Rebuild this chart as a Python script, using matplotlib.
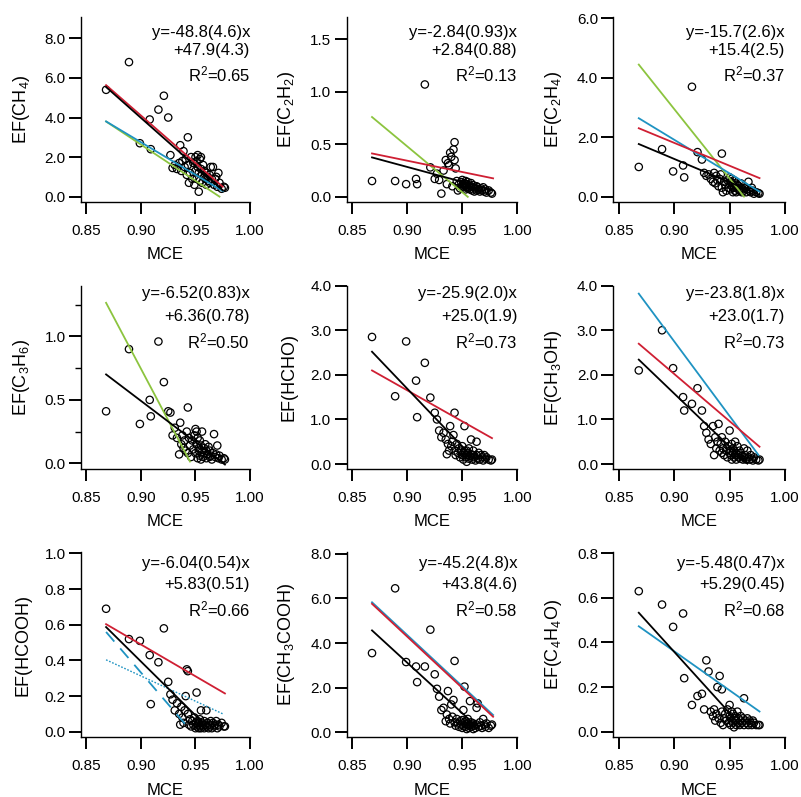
import matplotlib
matplotlib.use("Agg")
import matplotlib.pyplot as plt
import numpy as np

plt.rcParams['font.family'] = ['Liberation Sans', 'DejaVu Sans']
plt.rcParams['mathtext.fontset'] = 'custom'
plt.rcParams['mathtext.rm'] = 'Liberation Sans'
plt.rcParams['mathtext.it'] = 'Liberation Sans:italic'

# ---------------- data ----------------
mce = [0.868, 0.889, 0.899, 0.908, 0.909, 0.916, 0.921, 0.925, 0.927, 0.929,
       0.931, 0.933, 0.935, 0.936, 0.937, 0.938, 0.939, 0.940, 0.941, 0.942,
       0.943, 0.943, 0.944, 0.945, 0.946, 0.947, 0.948, 0.949, 0.950, 0.950,
       0.951, 0.951, 0.952, 0.952, 0.953, 0.953, 0.954, 0.954, 0.955, 0.955,
       0.956, 0.956, 0.957, 0.958, 0.958, 0.959, 0.960, 0.960, 0.961, 0.962,
       0.963, 0.963, 0.964, 0.965, 0.966, 0.967, 0.968, 0.969, 0.970, 0.971,
       0.972, 0.974, 0.976, 0.977]

ef_ch4 = [5.4, 6.8, 2.7, 3.9, 2.4, 4.4, 5.1, 4.0, 2.1, 1.45, 1.6, 1.4, 1.7, 2.6, 1.3, 1.8,
          2.3, 1.5, 1.9, 1.1, 3.0, 1.6, 0.7, 1.2, 2.0, 0.9, 1.7, 0.6, 1.3, 2.0, 1.8, 0.9,
          1.5, 2.1, 0.25, 1.2, 1.9, 0.8, 1.4, 2.0, 1.1, 0.7, 1.6, 1.0, 1.3, 0.9, 1.2, 0.6,
          1.0, 0.8, 1.1, 0.7, 1.5, 0.9, 1.5, 0.6, 0.9, 1.0, 0.5, 1.2, 0.7, 0.4, 0.5, 0.45]
ef_c2h2 = [0.15, 0.15, 0.12, 0.17, 0.12, 1.07, 0.28, 0.17, 0.22, 0.16, 0.03, 0.25, 0.35, 0.12,
           0.32, 0.30, 0.42, 0.38, 0.10, 0.45, 0.52, 0.35, 0.27, 0.15, 0.06, 0.12, 0.08, 0.14,
           0.10, 0.16, 0.12, 0.09, 0.13, 0.11, 0.07, 0.15, 0.10, 0.12, 0.08, 0.14, 0.09, 0.11,
           0.07, 0.10, 0.13, 0.06, 0.09, 0.11, 0.05, 0.08, 0.10, 0.06, 0.09, 0.07, 0.05, 0.08,
           0.06, 0.09, 0.05, 0.07, 0.04, 0.06, 0.04, 0.03]
ef_c2h4 = [1.0, 1.6, 0.85, 1.05, 0.65, 3.7, 1.5, 1.25, 0.8, 0.7, 0.75, 0.6, 0.5, 0.8, 0.45,
           0.7, 0.55, 0.35, 0.6, 0.75, 1.45, 0.3, 0.15, 0.5, 0.4, 0.2, 0.55, 0.3, 0.45, 0.65,
           0.25, 0.5, 0.35, 0.6, 0.15, 0.4, 0.3, 0.55, 0.2, 0.45, 0.3, 0.15, 0.4, 0.25, 0.35,
           0.2, 0.3, 0.45, 0.15, 0.25, 0.35, 0.2, 0.3, 0.15, 0.25, 0.5, 0.2, 0.15, 0.3, 0.2,
           0.1, 0.15, 0.12, 0.1]
ef_c3h6 = [0.41, 0.90, 0.31, 0.50, 0.37, 0.96, 0.64, 0.41, 0.40, 0.22, 0.28, 0.20, 0.07, 0.32,
           0.15, 0.22, 0.12, 0.18, 0.10, 0.25, 0.44, 0.08, 0.20, 0.14, 0.05, 0.18, 0.11, 0.22,
           0.27, 0.08, 0.15, 0.25, 0.04, 0.20, 0.12, 0.10, 0.06, 0.18, 0.03, 0.14, 0.09, 0.25,
           0.05, 0.12, 0.08, 0.15, 0.04, 0.10, 0.07, 0.13, 0.05, 0.10, 0.06, 0.03, 0.08, 0.23,
           0.05, 0.07, 0.14, 0.04, 0.06, 0.03, 0.04, 0.03]
ef_hcho = [2.85, 1.52, 2.75, 1.87, 1.05, 2.27, 1.49, 1.15, 1.0, 0.75, 0.6, 0.7, 0.55, 0.22,
           0.45, 0.3, 0.85, 0.4, 0.5, 0.65, 1.15, 0.3, 0.2, 0.45, 0.25, 0.35, 0.15, 0.3, 0.2,
           0.4, 0.25, 0.1, 0.85, 0.3, 0.2, 0.15, 0.3, 0.05, 0.25, 0.2, 0.12, 0.35, 0.18, 0.55,
           0.22, 0.1, 0.2, 0.3, 0.15, 0.08, 0.5, 0.2, 0.12, 0.25, 0.1, 0.2, 0.15, 0.08, 0.2,
           0.12, 0.15, 0.1, 0.08, 0.1]
ef_ch3oh = [2.1, 3.0, 2.15, 1.5, 1.2, 1.35, 1.7, 1.2, 0.85, 0.7, 0.55, 0.45, 0.85, 0.2, 0.6,
            0.35, 0.5, 0.9, 0.3, 0.45, 0.25, 0.6, 0.35, 0.2, 0.5, 0.3, 0.15, 0.4, 0.25, 0.75,
            0.3, 0.2, 0.45, 0.1, 0.35, 0.25, 0.15, 0.3, 0.2, 0.5, 0.1, 0.25, 0.4, 0.15, 0.2,
            0.3, 0.12, 0.25, 0.18, 0.1, 0.35, 0.15, 0.2, 0.1, 0.3, 0.15, 0.1, 0.2, 0.12, 0.08,
            0.15, 0.1, 0.08, 0.1]
ef_hcooh = [0.69, 0.52, 0.51, 0.43, 0.155, 0.39, 0.58, 0.28, 0.21, 0.18, 0.12, 0.16, 0.10,
            0.04, 0.14, 0.08, 0.05, 0.12, 0.20, 0.35, 0.34, 0.10, 0.04, 0.07, 0.03, 0.06, 0.04,
            0.08, 0.02, 0.05, 0.22, 0.03, 0.06, 0.04, 0.02, 0.05, 0.03, 0.07, 0.12, 0.02, 0.05,
            0.04, 0.03, 0.06, 0.02, 0.04, 0.12, 0.03, 0.05, 0.02, 0.04, 0.03, 0.06, 0.02, 0.05,
            0.03, 0.04, 0.06, 0.02, 0.04, 0.03, 0.05, 0.03, 0.03]
ef_ch3cooh = [3.55, 6.45, 3.15, 2.95, 2.25, 2.95, 4.6, 2.6, 1.95, 1.6, 1.0, 1.1, 0.5, 0.8, 1.85,
              0.6, 0.4, 1.25, 0.7, 1.45, 3.2, 0.45, 0.3, 0.6, 0.4, 0.25, 0.5, 0.35, 0.2, 0.55,
              1.0, 0.3, 2.05, 0.45, 0.25, 0.5, 0.15, 0.35, 0.4, 0.6, 0.3, 0.2, 1.4, 0.45, 0.25,
              0.35, 0.15, 0.4, 0.3, 0.2, 1.1, 0.35, 1.3, 0.25, 0.45, 0.3, 0.2, 0.6, 0.35, 0.25,
              0.4, 0.2, 0.3, 0.35]
ef_c4h4o = [0.63, 0.57, 0.47, 0.53, 0.24, 0.12, 0.16, 0.17, 0.10, 0.32, 0.27, 0.09, 0.07, 0.10,
            0.05, 0.08, 0.20, 0.06, 0.25, 0.04, 0.19, 0.09, 0.03, 0.06, 0.08, 0.05, 0.10, 0.04,
            0.07, 0.12, 0.03, 0.06, 0.09, 0.05, 0.04, 0.08, 0.02, 0.06, 0.05, 0.07, 0.03, 0.05,
            0.09, 0.04, 0.06, 0.03, 0.05, 0.07, 0.04, 0.06, 0.03, 0.15, 0.05, 0.04, 0.06, 0.03,
            0.05, 0.04, 0.03, 0.05, 0.04, 0.03, 0.03, 0.03]

ylabels = ['EF(CH$_4$)', 'EF(C$_2$H$_2$)', 'EF(C$_2$H$_4$)',
           'EF(C$_3$H$_6$)', 'EF(HCHO)', 'EF(CH$_3$OH)',
           'EF(HCOOH)', 'EF(CH$_3$COOH)', 'EF(C$_4$H$_4$O)']
ef_all = [ef_ch4, ef_c2h2, ef_c2h4, ef_c3h6, ef_hcho, ef_ch3oh, ef_hcooh, ef_ch3cooh, ef_c4h4o]

# fitted regression (slope, intercept) and text
fit_slope = [-48.8, -2.84, -15.7, -6.52, -25.9, -23.8, -6.04, -45.2, -5.48]
fit_inter = [47.9, 2.84, 15.4, 6.36, 25.0, 23.0, 5.83, 43.8, 5.29]
fit_xmax = [0.975, 0.977, 0.977, 0.977, 0.964, 0.966, 0.955, 0.962, 0.953]
eq_line1 = ['y=-48.8(4.6)x', 'y=-2.84(0.93)x', 'y=-15.7(2.6)x',
            'y=-6.52(0.83)x', 'y=-25.9(2.0)x', 'y=-23.8(1.8)x',
            'y=-6.04(0.54)x', 'y=-45.2(4.8)x', 'y=-5.48(0.47)x']
eq_line2 = ['+47.9(4.3)', '+2.84(0.88)', '+15.4(2.5)',
            '+6.36(0.78)', '+25.0(1.9)', '+23.0(1.7)',
            '+5.83(0.51)', '+43.8(4.6)', '+5.29(0.45)']
r2 = ['0.65', '0.13', '0.37', '0.50', '0.73', '0.73', '0.66', '0.58', '0.68']

# comparison lines from other studies: (panel, color key, style, slope, intercept, xmin, xmax)
RED, BLUE, GREEN = '#cf1f33', '#1f93c2', '#8cc43f'
ref_panel = [0, 0, 0, 1, 1, 2, 2, 2, 3, 4, 5, 5, 6, 6, 6, 7, 7, 8]
ref_color = ['green', 'blue', 'red', 'green', 'red', 'green', 'blue', 'red', 'green',
             'red', 'blue', 'red', 'blue', 'blue', 'red', 'blue', 'red', 'blue']
ref_style = ['-', '-', '-', '-', '-', '-', '-', '-', '-',
             '-', '-', '-', 'dash', 'dot', '-', '-', '-', '-']
ref_slope = [-36.5, -32.9, -48.0, -8.74, -2.156, -46.8, -22.66, -15.41, -16.25,
             -13.93, -33.5, -21.2, -7.12, -2.83, -3.565, -45.87, -45.96, -3.505]
ref_inter = [35.48, 32.36, 47.3, 8.346, 2.284, 45.07, 22.31, 15.68, 15.37,
             14.19, 32.9, 21.10, 6.74, 2.86, 3.698, 45.64, 45.65, 3.515]
ref_xmin = [0.868] * 18
ref_xmax = [0.972, 0.975, 0.975, 0.955, 0.978, 0.963, 0.977, 0.977, 0.945,
            0.977, 0.976, 0.977, 0.942, 0.975, 0.977, 0.978, 0.978, 0.977]

yticks_major = [[0, 2, 4, 6, 8], [0, 0.5, 1.0, 1.5], [0, 2, 4, 6],
                [0, 0.5, 1.0], [0, 1, 2, 3, 4], [0, 1, 2, 3, 4],
                [0, 0.2, 0.4, 0.6, 0.8, 1.0], [0, 2, 4, 6, 8], [0, 0.2, 0.4, 0.6, 0.8]]
yticks_minor = [[], [], [], [0.25, 0.75, 1.25], [], [], [], [], []]
ylims = [(-0.27, 9.08), (-0.05, 1.713), (-0.18, 6.05),
         (-0.045, 1.40), (-0.112, 4.0), (-0.112, 4.0),
         (-0.031, 1.01), (-0.22, 8.09), (-0.025, 0.807)]
xticks = [0.85, 0.90, 0.95, 1.00]

# ---------------- layout ----------------
W, H = 801, 797
fig = plt.figure(figsize=(W / 100, H / 100), dpi=100)
col_left = [81, 346.7, 613.3]
col_right = [250, 517.3, 785]
row_top = [17, 285.7, 551.7]
row_bot = [202, 469, 737.3]
text_y = [(0.916, 0.817, 0.690), (0.955, 0.830, 0.695), (0.938, 0.821, 0.690)]

colors = {'red': RED, 'blue': BLUE, 'green': GREEN}
xarr = np.array(mce)

for i in range(9):
    r, c = divmod(i, 3)
    ax = fig.add_axes([col_left[c] / W, 1 - row_bot[r] / H,
                       (col_right[c] - col_left[c]) / W, (row_bot[r] - row_top[r]) / H])
    ax.scatter(xarr, ef_all[i], s=28, facecolors='none', edgecolors='black',
               linewidths=0.9, zorder=2)
    # reference lines
    for k in range(len(ref_panel)):
        if ref_panel[k] != i:
            continue
        xs = np.array([ref_xmin[k], ref_xmax[k]])
        ys = ref_slope[k] * xs + ref_inter[k]
        kw = dict(color=colors[ref_color[k]], lw=1.3, zorder=3)
        if ref_style[k] == 'dash':
            kw['dashes'] = (7, 5)
        elif ref_style[k] == 'dot':
            kw['dashes'] = (1.2, 1.2)
            kw['lw'] = 1.0
        ax.plot(xs, ys, **kw)
    # own fit
    xs = np.array([0.868, fit_xmax[i]])
    ax.plot(xs, fit_slope[i] * xs + fit_inter[i], color='black', lw=1.3, zorder=4)

    ax.set_xlim(0.845, 1.0)
    ax.set_ylim(*ylims[i])
    ax.set_xticks(xticks)
    ax.set_xticklabels(['%.2f' % v for v in xticks])
    ax.set_yticks(yticks_major[i])
    ax.set_yticklabels(['%.1f' % v for v in yticks_major[i]])
    if yticks_minor[i]:
        ax.set_yticks(yticks_minor[i], minor=True)
    for s in ['top', 'right']:
        ax.spines[s].set_visible(False)
    for s in ['left', 'bottom']:
        ax.spines[s].set_linewidth(1.0)
    ax.tick_params(axis='both', which='major', direction='out', length=8.5, width=1.4,
                   labelsize=11)
    ax.tick_params(axis='x', which='major', pad=7)
    ax.tick_params(axis='y', which='major', pad=2.5)
    ax.tick_params(axis='y', which='minor', direction='out', length=4.5, width=1.0)
    ax.set_xlabel('MCE', fontsize=12, labelpad=7)
    ax.set_ylabel(ylabels[i], fontsize=13)
    ax.yaxis.set_label_coords(-0.29, 0.5)
    ty = text_y[r]
    ax.text(1.0, ty[0], eq_line1[i], transform=ax.transAxes, ha='right', va='center', fontsize=12)
    ax.text(1.0, ty[1], eq_line2[i], transform=ax.transAxes, ha='right', va='center', fontsize=12)
    ax.text(1.0, ty[2], 'R$^2$=' + r2[i], transform=ax.transAxes, ha='right', va='center',
            fontsize=12)

fig.savefig('out.png', dpi=100)
